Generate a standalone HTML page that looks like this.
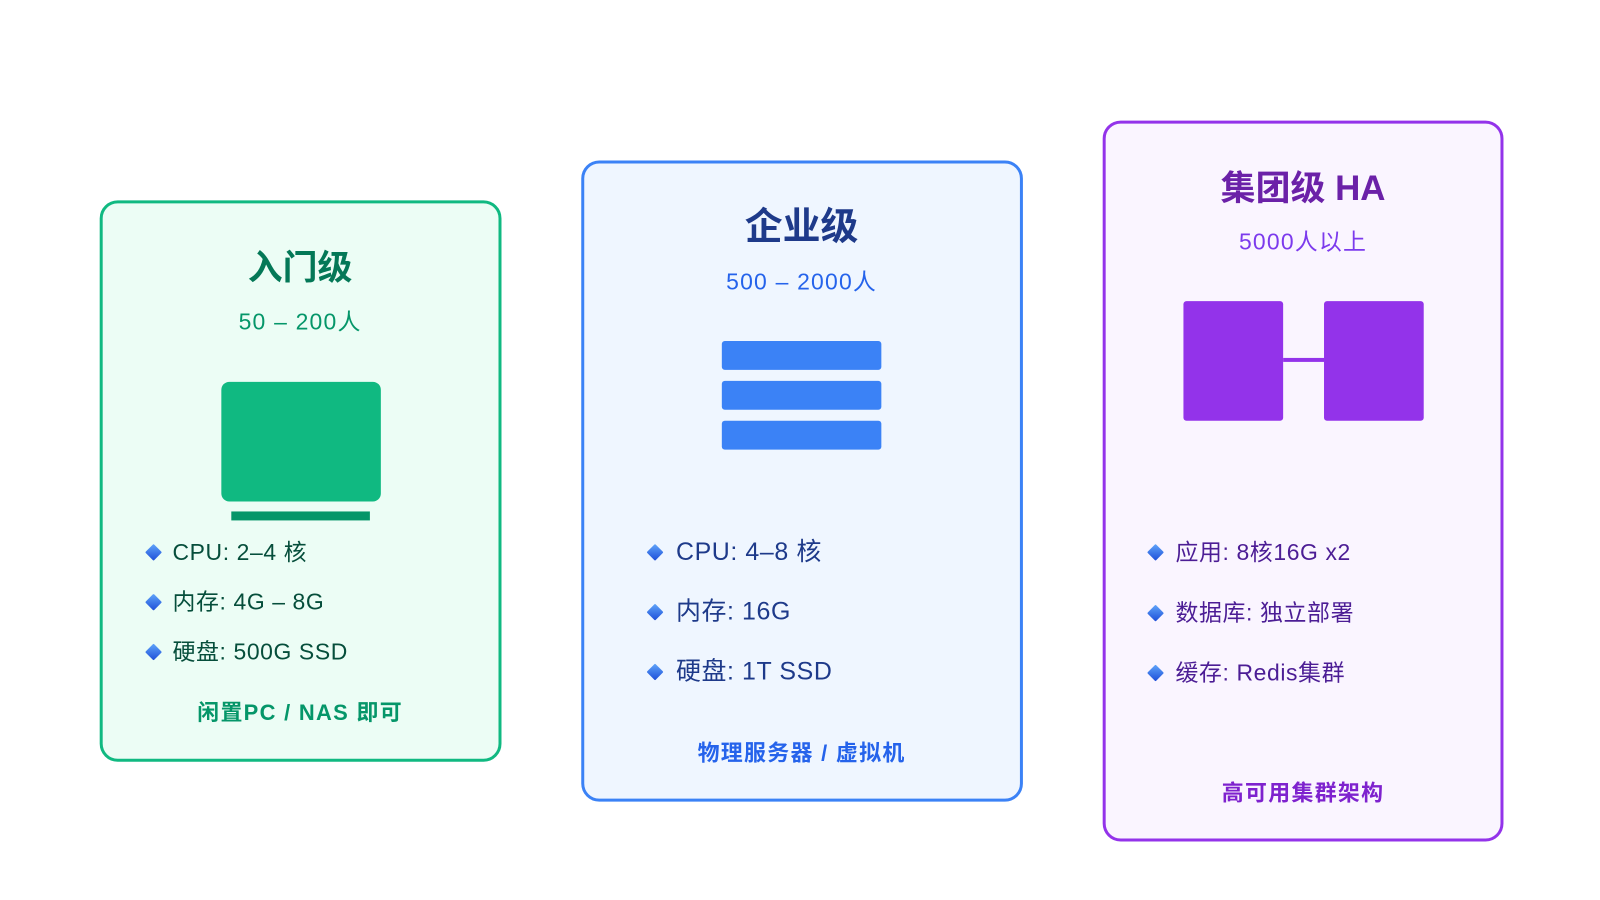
<!DOCTYPE html>
<html><head><meta charset="utf-8"><style>
*{margin:0;padding:0;box-sizing:border-box}
body{width:1600px;height:900px;background:#fff;position:relative;overflow:hidden;font-family:"Liberation Sans","Noto Sans CJK SC",sans-serif}
#w{position:absolute;left:0;top:0;width:1600px;height:900px;transform:scale(0.997);transform-origin:0 0}
.card{position:absolute;border:3px solid;border-radius:18px}
.t{position:absolute;white-space:nowrap;transform:translate(-50%,-50%);line-height:1}
.s{letter-spacing:1.2px}
.f{letter-spacing:1.3px}
.l{position:absolute;white-space:nowrap;transform:translateY(-50%);line-height:1;letter-spacing:0.6px}
.r{position:absolute}
.d{position:absolute;width:12px;height:12px;transform:translate(-50%,-50%) rotate(45deg);background:linear-gradient(135deg,#60a5fa,#1d4ed8);border-radius:1px}
</style></head><body><div id="w">
<!-- card 1 -->
<div class="card" style="left:100px;top:201px;width:403px;height:563px;border-color:#10b981;background:#ecfdf5"></div>
<div class="t" style="left:301px;top:269px;font-size:35px;font-weight:bold;color:#047857">入门级</div>
<div class="t s" style="left:301px;top:323px;font-size:23px;color:#059669">50 – 200人</div>
<div class="r" style="left:222px;top:383px;width:160px;height:120px;background:#10b981;border-radius:8px"></div>
<div class="r" style="left:232px;top:513px;width:139px;height:9px;background:#059669"></div>
<div class="d" style="left:154px;top:554px"></div><div class="l" style="left:173px;top:554px;font-size:23px;color:#064e3b">CPU: 2–4 核</div>
<div class="d" style="left:154px;top:604px"></div><div class="l" style="left:173px;top:604px;font-size:23px;color:#064e3b">内存: 4G – 8G</div>
<div class="d" style="left:154px;top:654px"></div><div class="l" style="left:173px;top:654px;font-size:23px;color:#064e3b">硬盘: 500G SSD</div>
<div class="t f" style="left:301px;top:715px;font-size:22px;font-weight:bold;color:#059669">闲置PC / NAS 即可</div>
<!-- card 2 -->
<div class="card" style="left:583px;top:161px;width:443px;height:643px;border-color:#3b82f6;background:#eff6ff"></div>
<div class="t" style="left:804px;top:228px;font-size:38px;font-weight:bold;color:#1e3a8a">企业级</div>
<div class="t s" style="left:804px;top:283px;font-size:23px;color:#2563eb">500 – 2000人</div>
<div class="r" style="left:724px;top:342px;width:160px;height:29px;background:#3b82f6;border-radius:3px"></div>
<div class="r" style="left:724px;top:382px;width:160px;height:29px;background:#3b82f6;border-radius:3px"></div>
<div class="r" style="left:724px;top:422px;width:160px;height:29px;background:#3b82f6;border-radius:3px"></div>
<div class="d" style="left:657px;top:554px"></div><div class="l" style="left:678px;top:554px;font-size:25px;color:#1e3a8a">CPU: 4–8 核</div>
<div class="d" style="left:657px;top:614px"></div><div class="l" style="left:678px;top:614px;font-size:25px;color:#1e3a8a">内存: 16G</div>
<div class="d" style="left:657px;top:674px"></div><div class="l" style="left:678px;top:674px;font-size:25px;color:#1e3a8a">硬盘: 1T SSD</div>
<div class="t f" style="left:804px;top:756px;font-size:22px;font-weight:bold;color:#2563eb">物理服务器 / 虚拟机</div>
<!-- card 3 -->
<div class="card" style="left:1106px;top:121px;width:402px;height:723px;border-color:#9333ea;background:#faf5ff"></div>
<div class="t" style="left:1307px;top:189px;font-size:35px;font-weight:bold;color:#6b21a8">集团级 HA</div>
<div class="t s" style="left:1307px;top:243px;font-size:23px;color:#7c3aed">5000人以上</div>
<div class="r" style="left:1187px;top:302px;width:100px;height:120px;background:#9333ea;border-radius:3px"></div>
<div class="r" style="left:1328px;top:302px;width:100px;height:120px;background:#9333ea;border-radius:3px"></div>
<div class="r" style="left:1287px;top:359px;width:41px;height:4px;background:#9333ea"></div>
<div class="d" style="left:1159px;top:554px"></div><div class="l" style="left:1179px;top:554px;font-size:23px;color:#4c1d95">应用: 8核16G x2</div>
<div class="d" style="left:1159px;top:615px"></div><div class="l" style="left:1179px;top:615px;font-size:23px;color:#4c1d95">数据库: 独立部署</div>
<div class="d" style="left:1159px;top:675px"></div><div class="l" style="left:1179px;top:675px;font-size:23px;color:#4c1d95">缓存: Redis集群</div>
<div class="t f" style="left:1307px;top:796px;font-size:22px;font-weight:bold;color:#7e22ce">高可用集群架构</div>
</div></body></html>
